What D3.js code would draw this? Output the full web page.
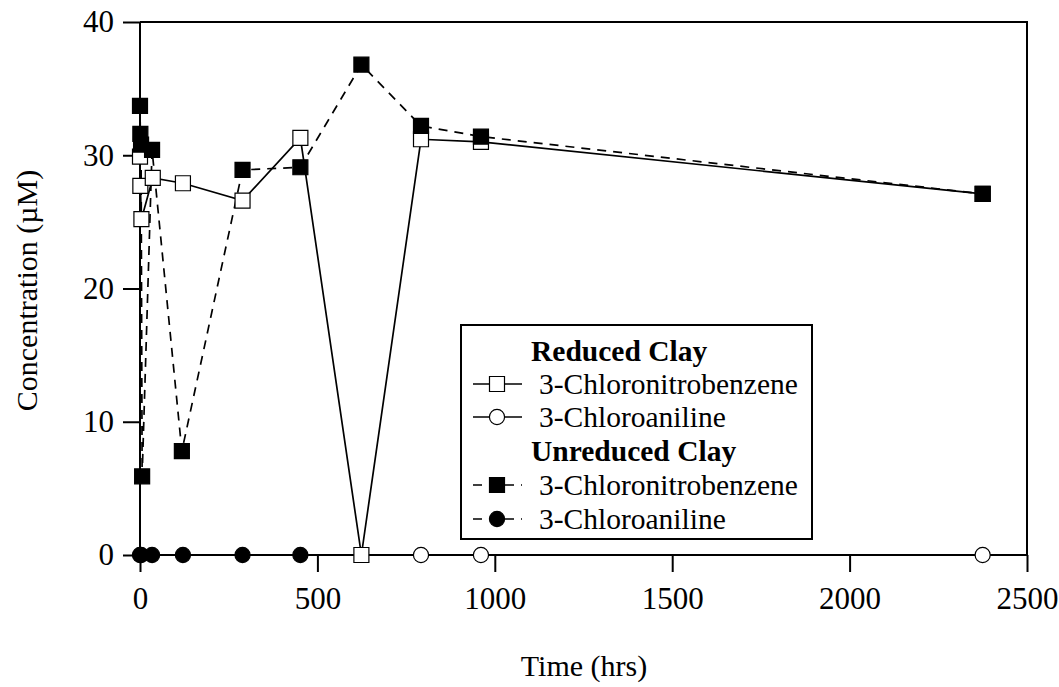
<!DOCTYPE html>
<html>
<head>
<meta charset="utf-8">
<script src="https://cdn.jsdelivr.net/npm/d3@7"></script>
<style>
  html, body { margin: 0; padding: 0; background: #fff; }
  svg { display: block; }
  text { font-family: "Liberation Serif", "Times New Roman", serif; fill: #000; }
</style>
</head>
<body>
<svg id="chart" width="1059" height="687"></svg>
<script>
// Time (hrs) and concentration (µM) for each series
const reducedCNBTime   = [0, 1, 4, 36, 121, 289, 452, 624, 792, 961, 2375];
const reducedCNBConc   = [29.9, 27.7, 25.2, 28.3, 27.9, 26.6, 31.3, 0, 31.2, 31.0, 27.1];

const reducedCATime    = [792, 961, 2375];
const reducedCAConc    = [0, 0, 0];

const unreducedCNBTime = [0, 1, 3, 6, 34, 118, 289, 452, 624, 792, 961, 2375];
const unreducedCNBConc = [33.7, 31.6, 30.8, 5.9, 30.4, 7.8, 28.9, 29.1, 36.8, 32.2, 31.4, 27.1];

const unreducedCATime  = [0, 3, 34, 121, 289, 452];
const unreducedCAConc  = [0, 0, 0, 0, 0, 0];

const xTicks = [0, 500, 1000, 1500, 2000, 2500];
const yTicks = [0, 10, 20, 30, 40];

const legendGroups = ["Reduced Clay", "Unreduced Clay"];
const legendNames  = ["3-Chloronitrobenzene", "3-Chloroaniline"];

(function draw() {
  const svg = d3.select("#chart");
  const plotL = 140, plotR = 1027, plotT = 22, plotB = 555;

  const x = d3.scaleLinear().domain([0, 2500]).range([plotL, plotR]);
  const y = d3.scaleLinear().domain([0, 40]).range([plotB, plotT]);

  const zip = (ts, cs) => ts.map((t, i) => ({ t, c: cs[i] }));

  // frame: top and right edges
  svg.append("path")
    .attr("d", `M${plotL},${plotT}H${plotR}V${plotB}`)
    .attr("fill", "none").attr("stroke", "#000").attr("stroke-width", 2);

  // axes
  const xAxis = d3.axisBottom(x).tickValues(xTicks).tickSize(17).tickPadding(15).tickFormat(d3.format("d"));
  const yAxis = d3.axisLeft(y).tickValues(yTicks).tickSize(17).tickPadding(9).tickFormat(d3.format("d"));

  const gx = svg.append("g").attr("transform", `translate(0,${plotB})`).call(xAxis);
  const gy = svg.append("g").attr("transform", `translate(${plotL},0)`).call(yAxis);
  [gx, gy].forEach(g => {
    g.select(".domain").attr("stroke", "#000").attr("stroke-width", 2);
    g.selectAll(".tick line").attr("stroke", "#000").attr("stroke-width", 2);
    g.selectAll(".tick text")
      .style("font-family", '"Liberation Serif", serif')
      .style("font-size", "31px").attr("fill", "#000");
  });
  gx.select(".domain").attr("d", `M${plotL},0H${plotR}`);
  gy.select(".domain").attr("d", `M0,${plotT}V${plotB}`);

  // axis titles
  svg.append("text")
    .attr("x", 584).attr("y", 676)
    .attr("text-anchor", "middle").style("font-size", "30px")
    .text("Time (hrs)");
  svg.append("text")
    .attr("transform", `translate(37,${(plotT + plotB) / 2 + 2}) rotate(-90)`)
    .attr("text-anchor", "middle").style("font-size", "30px")
    .text("Concentration (µM)");

  const line = d3.line().x(d => x(d.t)).y(d => y(d.c));

  const series = [
    { data: zip(reducedCNBTime, reducedCNBConc), dash: null, shape: d3.symbolSquare, fill: "#fff" },
    { data: zip(reducedCATime, reducedCAConc), dash: null, shape: d3.symbolCircle, fill: "#fff" },
    { data: zip(unreducedCNBTime, unreducedCNBConc), dash: "9,7", shape: d3.symbolSquare, fill: "#000" },
    { data: zip(unreducedCATime, unreducedCAConc), dash: "9,7", shape: d3.symbolCircle, fill: "#000" }
  ];

  const symSize = s => s === d3.symbolSquare ? 225 : 180;

  // lines first, then markers on top
  series.forEach(s => {
    svg.append("path").datum(s.data)
      .attr("d", line).attr("fill", "none")
      .attr("stroke", "#000").attr("stroke-width", 1.7)
      .attr("stroke-dasharray", s.dash);
  });
  series.forEach(s => {
    svg.append("g").selectAll("path").data(s.data).join("path")
      .attr("transform", d => `translate(${x(d.t)},${y(d.c)})`)
      .attr("d", d3.symbol(s.shape, symSize(s.shape)))
      .attr("fill", s.fill).attr("stroke", "#000").attr("stroke-width", 1.2);
  });

  // legend
  const lg = svg.append("g");
  lg.append("rect")
    .attr("x", 461).attr("y", 325).attr("width", 351).attr("height", 214)
    .attr("fill", "#fff").attr("stroke", "#000").attr("stroke-width", 2);

  const rowY = [351, 384, 417, 451, 485, 519];
  const entries = [
    { head: legendGroups[0] },
    { name: legendNames[0], s: series[0] },
    { name: legendNames[1], s: series[1] },
    { head: legendGroups[1] },
    { name: legendNames[0], s: series[2] },
    { name: legendNames[1], s: series[3] }
  ];
  entries.forEach((e, i) => {
    const cy = rowY[i];
    if (e.head) {
      lg.append("text").attr("x", 531).attr("y", cy + 10)
        .style("font-size", "29.5px").style("font-weight", "bold").text(e.head);
      return;
    }
    lg.append("line").attr("x1", 473).attr("x2", 522).attr("y1", cy).attr("y2", cy)
      .attr("stroke", "#000").attr("stroke-width", 1.7)
      .attr("stroke-dasharray", e.s.dash);
    lg.append("path").attr("transform", `translate(497,${cy})`)
      .attr("d", d3.symbol(e.s.shape, symSize(e.s.shape)))
      .attr("fill", e.s.fill).attr("stroke", "#000").attr("stroke-width", 1.2);
    lg.append("text").attr("x", 539).attr("y", cy + 10)
      .style("font-size", "29.5px").text(e.name);
  });
})();
</script>
</body>
</html>
